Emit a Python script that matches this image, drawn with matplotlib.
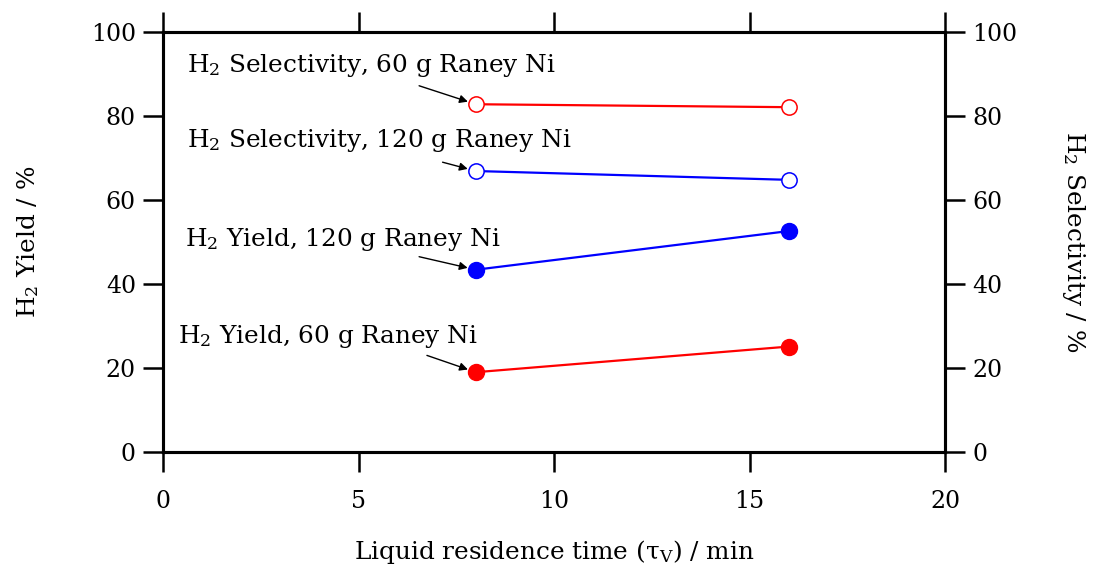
import numpy as np
import matplotlib
matplotlib.use('Agg')
import matplotlib.pyplot as plt

plt.rcParams['font.family'] = 'DejaVu Serif'
plt.rcParams['mathtext.fontset'] = 'dejavuserif'

# data
tau = [8, 16]
sel_60 = [82.8, 82.1]
sel_120 = [66.9, 64.8]
yield_120 = [43.4, 52.6]
yield_60 = [19.0, 25.1]

labels = {
    'sel_60': r'H$_2$ Selectivity, 60 g Raney Ni',
    'sel_120': r'H$_2$ Selectivity, 120 g Raney Ni',
    'yield_120': r'H$_2$ Yield, 120 g Raney Ni',
    'yield_60': r'H$_2$ Yield, 60 g Raney Ni',
}

fig = plt.figure(figsize=(10.95, 5.69), dpi=100)
ax = fig.add_axes([163/1095, 1 - 452/569, (945-163)/1095, (452-32)/569])
ax2 = ax.twinx()

ax.plot(tau, sel_60, color='#ff0000', lw=1.6, marker='o', ms=11, mfc='white', mew=1.1, clip_on=False)
ax.plot(tau, sel_120, color='#0000ff', lw=1.6, marker='o', ms=11, mfc='white', mew=1.1, clip_on=False)
ax.plot(tau, yield_120, color='#0000ff', lw=1.6, marker='o', ms=11.5, clip_on=False)
ax.plot(tau, yield_60, color='#ff0000', lw=1.6, marker='o', ms=11.5, clip_on=False)

# text labels and arrows
txt = [
    ('sel_60', (0.61, 92.0), (6.55, 87.2), sel_60[0]),
    ('sel_120', (0.61, 74.2), (7.15, 69.0), sel_120[0]),
    ('yield_120', (0.56, 50.6), (6.55, 46.5), yield_120[0]),
    ('yield_60', (0.38, 27.4), (6.75, 23.0), yield_60[0]),
]
for key, tpos, apos, yv in txt:
    ax.text(tpos[0], tpos[1], labels[key], fontsize=17.8, va='center', ha='left')
    ax.annotate('', xy=(tau[0], yv), xytext=apos,
                arrowprops=dict(arrowstyle='-|>', color='black', lw=1.0,
                                mutation_scale=12, shrinkA=0, shrinkB=6))

ax.set_xlim(0, 20)
ax.set_ylim(0, 100)
ax2.set_ylim(0, 100)
ax.set_xticks([0, 5, 10, 15, 20])
ax.set_yticks(np.arange(0, 101, 20))
ax2.set_yticks(np.arange(0, 101, 20))

for a in (ax, ax2):
    for s in a.spines.values():
        s.set_linewidth(2.2)
    a.tick_params(direction='out', length=14.5, width=1.8, labelsize=17, pad=5)
ax.tick_params(axis='x', top=True, pad=13)

ax.set_xlabel('Liquid residence time (τ$_\\mathrm{V}$) / min', fontsize=17.8, labelpad=18)
ax.set_ylabel(r'H$_2$ Yield / %', fontsize=17.8, labelpad=36)
ax2.set_ylabel(r'H$_2$ Selectivity / %', fontsize=17.8, rotation=270, labelpad=50)

fig.savefig('out.png', dpi=100)
